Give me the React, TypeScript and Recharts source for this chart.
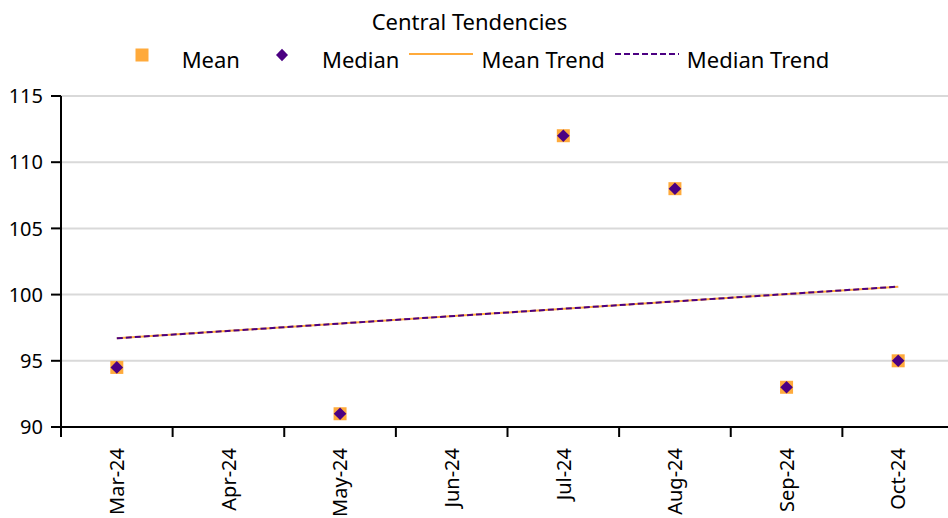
import React from 'react';
import { ComposedChart, Line, XAxis, YAxis, CartesianGrid, Legend } from 'recharts';

const TITLE = 'Central Tendencies';
const categories = ['Mar-24', 'Apr-24', 'May-24', 'Jun-24', 'Jul-24', 'Aug-24', 'Sep-24', 'Oct-24'];
const meanValues: (number | null)[] = [94.5, null, 91, null, 112, 108, 93, 95];
const medianValues: (number | null)[] = [94.5, null, 91, null, 112, 108, 93, 95];
const meanTrendValues: (number | null)[] = [96.7, null, null, null, null, null, null, 100.6];
const medianTrendValues: (number | null)[] = [96.7, null, null, null, null, null, null, 100.6];
const yTicks = [90, 95, 100, 105, 110, 115];
const legendOrder = ['mean', 'median', 'meanTrend', 'medianTrend'];

const ORANGE = '#FFAA3B';
const PURPLE = '#4B0082';
const FONT = '"Noto Sans", "Open Sans", sans-serif';

const data = categories.map((c, i) => ({
  month: c,
  mean: meanValues[i],
  median: medianValues[i],
  meanTrend: meanTrendValues[i],
  medianTrend: medianTrendValues[i],
}));

const SquareDot = (props: any) => {
  const { cx, cy, value, index } = props;
  if (cx == null || cy == null || value == null) return <g key={`s${index}`} />;
  return <rect key={`s${index}`} x={cx - 6.5} y={cy - 6.5} width={13} height={13} fill={ORANGE} />;
};

const DiamondDot = (props: any) => {
  const { cx, cy, value, index } = props;
  if (cx == null || cy == null || value == null) return <g key={`d${index}`} />;
  const r = 6.3;
  return (
    <polygon
      key={`d${index}`}
      points={`${cx},${cy - r} ${cx + r},${cy} ${cx},${cy + r} ${cx - r},${cy}`}
      fill={PURPLE}
    />
  );
};

const XTick = (props: any) => {
  const { x, y, payload } = props;
  const half = payload && payload.offset != null ? payload.offset : 55.8;
  const ly = y + 21;
  return (
    <g>
      <line x1={x - half} x2={x - half} y1={y} y2={y + 10} stroke="#000" strokeWidth={2} />
      <text
        x={x}
        y={ly}
        transform={`rotate(-90, ${x}, ${ly})`}
        textAnchor="end"
        dy="0.36em"
        fontSize={20}
        fontFamily={FONT}
        fill="#000"
      >
        {payload.value}
      </text>
    </g>
  );
};

const legendIcon = (dataKey: string) => {
  if (dataKey === 'mean') return <rect x={25.5} y={0.5} width={13} height={13} fill={ORANGE} />;
  if (dataKey === 'median')
    return <polygon points="32,0.7 38,7 32,13.3 26,7" fill={PURPLE} />;
  if (dataKey === 'meanTrend') return <line x1={0} x2={64} y1={6} y2={6} stroke={ORANGE} strokeWidth={2} />;
  return <line x1={0} x2={64} y1={6} y2={6} stroke={PURPLE} strokeWidth={2} strokeDasharray="6 3" />;
};

const renderLegend = (props: any) => {
  const payload = [...(props.payload || [])].sort(
    (a: any, b: any) => legendOrder.indexOf(String(a.dataKey)) - legendOrder.indexOf(String(b.dataKey))
  );
  return (
    <div style={{ fontFamily: FONT, color: '#000' }}>
      <div
        style={{
          position: 'absolute',
          top: 10,
          left: 0,
          width: '100%',
          textAlign: 'center',
          fontSize: 22,
          lineHeight: '22px',
          whiteSpace: 'nowrap',
        }}
      >
        {TITLE}
      </div>
      <div
        style={{
          position: 'absolute',
          top: 48,
          left: 0,
          width: '100%',
          display: 'flex',
          justifyContent: 'center',
          fontSize: 22,
          lineHeight: '22px',
        }}
      >
        {payload.map((entry: any, i: number) => (
          <div key={i} style={{ display: 'flex', alignItems: 'flex-start', marginLeft: i === 0 ? 0 : 10 }}>
            <svg width={64} height={22} style={{ display: 'block' }}>
              {legendIcon(String(entry.dataKey))}
            </svg>
            <span style={{ marginLeft: 8, whiteSpace: 'nowrap' }}>{entry.value}</span>
          </div>
        ))}
      </div>
    </div>
  );
};

export default function App() {
  return (
    <div style={{ position: 'absolute', left: 0, top: 0, width: 948, height: 518, overflow: 'hidden', background: '#fff' }}>
      <ComposedChart width={954} height={518} data={data} margin={{ top: 96, right: 0, bottom: 0, left: 0 }}>
        <CartesianGrid vertical={false} stroke="#d9d9d9" strokeWidth={2} />
        <XAxis
          dataKey="month"
          type="category"
          scale="band"
          height={91}
          interval={0}
          tickSize={0}
          tickMargin={0}
          tickLine={false}
          axisLine={{ stroke: '#000', strokeWidth: 2 }}
          tick={(p: any) => <XTick {...p} />}
        />
        <YAxis
          type="number"
          domain={[90, 115]}
          ticks={yTicks}
          interval={0}
          width={61}
          allowDataOverflow
          axisLine={{ stroke: '#000', strokeWidth: 2 }}
          tickLine={{ stroke: '#000', strokeWidth: 2 }}
          tickSize={10}
          tickMargin={8}
          tick={{ fontSize: 20, fill: '#000', fontFamily: FONT }}
        />
        <Legend
          layout="horizontal"
          verticalAlign="middle"
          align="center"
          width={939}
          wrapperStyle={{ top: 0, left: 0, width: 939, height: 80 }}
          content={renderLegend}
        />
        <Line
          name="Mean"
          dataKey="mean"
          stroke="none"
          strokeWidth={0}
          dot={SquareDot}
          activeDot={false}
          legendType="square"
          isAnimationActive={false}
        />
        <Line
          name="Median"
          dataKey="median"
          stroke="none"
          strokeWidth={0}
          dot={DiamondDot}
          activeDot={false}
          legendType="diamond"
          isAnimationActive={false}
        />
        <Line
          name="Mean Trend"
          dataKey="meanTrend"
          stroke={ORANGE}
          strokeWidth={2}
          dot={false}
          activeDot={false}
          connectNulls
          isAnimationActive={false}
        />
        <Line
          name="Median Trend"
          dataKey="medianTrend"
          stroke={PURPLE}
          strokeWidth={2}
          strokeDasharray="6 3"
          dot={false}
          activeDot={false}
          connectNulls
          isAnimationActive={false}
        />
      </ComposedChart>
    </div>
  );
}
